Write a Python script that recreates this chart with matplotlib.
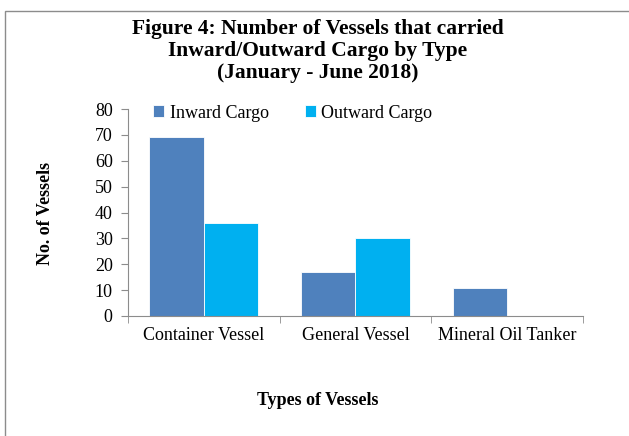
import matplotlib

matplotlib.use("Agg")
import matplotlib.pyplot as plt
import numpy as np
from matplotlib.patches import Rectangle

categories = ["Container Vessel", "General Vessel", "Mineral Oil Tanker"]
inward = [69, 17, 11]
outward = [36, 30, 0]
series_names = ["Inward Cargo", "Outward Cargo"]

plt.rcParams["font.family"] = ["Liberation Serif", "DejaVu Serif"]

W, H = 629, 436
fig = plt.figure(figsize=(W / 100, H / 100), dpi=100)

# outer chart frame (runs off the right and bottom edges)
fig.patches.append(Rectangle((5 / W, -0.1), 1.1, 1.1 - 11 / H,
                             transform=fig.transFigure, fill=False,
                             edgecolor="#8c8c8c", linewidth=1.0))

ax = fig.add_axes([128 / W, 1 - 316 / H, (583 - 128) / W, (316 - 109) / H])

x = np.arange(len(categories))
bw = 0.36
ax.bar(x - bw / 2, inward, bw, color="#4f81bd", edgecolor="white", linewidth=0.6, label=series_names[0])
ax.bar(x + bw / 2, outward, bw, color="#00b0f0", edgecolor="white", linewidth=0.6, label=series_names[1])

ax.set_xlim(-0.5, len(categories) - 0.5)
ax.set_ylim(0, 80)
ax.set_yticks(np.arange(0, 81, 10))
ax.set_xticks(x)
ax.set_xticklabels(categories, fontsize=13)
ax.set_xticks(np.arange(-0.5, len(categories)), minor=True)
ax.tick_params(axis="x", which="major", length=0, pad=8)
ax.tick_params(axis="x", which="minor", length=5, color="#8c8c8c", direction="out")
ax.tick_params(axis="y", length=5, color="#8c8c8c", labelsize=13, pad=6)

for side in ["top", "right"]:
    ax.spines[side].set_visible(False)
for side in ["left", "bottom"]:
    ax.spines[side].set_color("#8c8c8c")

ax.legend(loc="upper left", bbox_to_anchor=(0.02, 1.1), ncol=2, frameon=False,
          fontsize=13, handlelength=0.6, handleheight=0.6, handletextpad=0.3,
          columnspacing=2.0)

fig.text(318 / W, 1 - 51 / H,
         "Figure 4: Number of Vessels that carried\nInward/Outward Cargo by Type\n(January - June 2018)",
         ha="center", va="center", fontsize=15.5, fontweight="bold", linespacing=1.12)
fig.text(45 / W, 1 - 213 / H, "No. of Vessels", rotation=90, ha="center", va="center",
         fontsize=13, fontweight="bold")
fig.text(318 / W, 1 - 400 / H, "Types of Vessels", ha="center", va="center",
         fontsize=13, fontweight="bold")

fig.savefig("out.png", dpi=100)
